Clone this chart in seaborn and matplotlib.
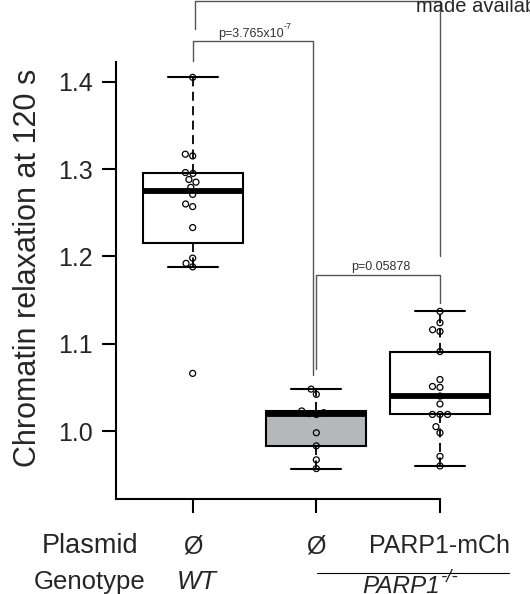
import numpy as np
import pandas as pd
import matplotlib
matplotlib.use("Agg")
import matplotlib.pyplot as plt
import matplotlib.transforms as mtransforms
import seaborn as sns

# === ДАННЫЕ ===
GROUPS = ["WT", "KO", "KO_PARP1"]
PLASMID_LABELS = ["Ø", "Ø", "PARP1-mCh"]
BOX_COLORS = ["white", "#b4b8b8", "white"]
Y_TICKS = [1.0, 1.1, 1.2, 1.3, 1.4]

wt_values = [1.405, 1.317, 1.315, 1.296, 1.295, 1.288, 1.285, 1.279,
             1.271, 1.260, 1.257, 1.233, 1.198, 1.192, 1.188, 1.066]
ko_values = [1.048, 1.042, 1.023, 1.021, 1.020, 1.019, 0.998, 0.983,
             0.967, 0.957]
ko_parp1_values = [1.137, 1.124, 1.116, 1.114, 1.091, 1.059, 1.051, 1.050,
                   1.040, 1.031, 1.019, 1.019, 1.019, 1.005, 0.998, 0.971,
                   0.960]

P_WT_KO = "p=3.765x10"
P_WT_KO_EXP = "-7"
P_KO_RESCUE = "p=0.05878"


def tukey_stats(vals):
    # как boxplot.stats в R: шарниры Тьюки + усы 1.5 IQR
    x = np.sort(np.asarray(vals))
    n = len(x)
    n4 = np.floor((n + 3) / 2) / 2
    d = np.array([1, n4, (n + 1) / 2, n + 1 - n4, n]) - 1
    five = 0.5 * (x[np.floor(d).astype(int)] + x[np.ceil(d).astype(int)])
    q1, med, q3 = five[1], five[2], five[3]
    iqr = q3 - q1
    return {
        "med": med, "q1": q1, "q3": q3,
        "whislo": x[x >= q1 - 1.5 * iqr].min(),
        "whishi": x[x <= q3 + 1.5 * iqr].max(),
        "fliers": [],
    }


def main():
    df = pd.DataFrame({
        "group": ["WT"] * len(wt_values) + ["KO"] * len(ko_values)
                 + ["KO_PARP1"] * len(ko_parp1_values),
        "value": wt_values + ko_values + ko_parp1_values,
    })

    sns.set_style("ticks")
    plt.rcParams["font.family"] = ["Liberation Sans", "DejaVu Sans"]

    fig = plt.figure(figsize=(5.3, 5.94), dpi=100)
    ax = fig.add_axes([0.2189, 0.1594, 0.7811, 0.7367])

    # === ТОЧКИ ===
    sns.swarmplot(data=df, x="group", y="value", order=GROUPS, size=4.3,
                  color="black", edgecolor="black", linewidth=0.9,
                  ax=ax, zorder=3)
    for coll in ax.collections:
        coll.set_facecolor("none")
        coll.set_edgecolor("black")

    # === БОКСЫ ===
    stats = [tukey_stats(v) for v in (wt_values, ko_values, ko_parp1_values)]
    bp = ax.bxp(stats, positions=range(len(GROUPS)), widths=0.81,
                patch_artist=True, showfliers=False, manage_ticks=False,
                boxprops=dict(linewidth=1.5, edgecolor="black"),
                whiskerprops=dict(linewidth=1.3, color="black",
                                  linestyle=(0, (5, 3))),
                capprops=dict(linewidth=1.5, color="black"),
                medianprops=dict(linewidth=4.2, color="black",
                                 solid_capstyle="butt"),
                zorder=2)
    for patch, c in zip(bp["boxes"], BOX_COLORS):
        patch.set_facecolor(c)

    # === ОСИ ===
    ax.set_xlim(-0.62, 2.728)
    ax.set_ylim(0.9218, 1.4229)
    ax.set_yticks(Y_TICKS)
    ax.set_yticklabels([f"{t:.1f}" for t in Y_TICKS])
    ax.set_xticks(range(len(GROUPS)))
    ax.set_xlabel("")
    ax.set_ylabel("")
    ax.tick_params(axis="both", length=9.8, width=1.5, color="black")
    ax.tick_params(axis="y", labelsize=18, pad=7)
    ax.tick_params(axis="x", labelbottom=False)
    for side in ("top", "right"):
        ax.spines[side].set_visible(False)
    for side in ("left", "bottom"):
        ax.spines[side].set_linewidth(1.5)
        ax.spines[side].set_color("black")
    ax.spines["bottom"].set_bounds(-0.62, 2)

    # === СКОБКИ С P-ЗНАЧЕНИЯМИ ===
    br = dict(color="#555555", lw=1.0, clip_on=False)
    ax.plot([0.02, 0.02, 2.0, 2.0], [1.460, 1.4926, 1.4926, 1.2004], **br)
    ax.plot([0.0, 0.0, 0.973, 0.973], [1.4237, 1.4466, 1.4466, 1.064], **br)
    ax.plot([1.0, 1.0, 2.0, 2.0], [1.071, 1.1786, 1.1786, 1.1466], **br)

    t1 = ax.text(0.205, 1.4512, P_WT_KO, fontsize=9, color="#333333",
                 ha="left", va="baseline")
    ax.annotate(P_WT_KO_EXP, xy=(1.0, 0.75), xycoords=t1, fontsize=6.5,
                color="#333333", ha="left", va="bottom")
    ax.text(1.523, 1.1845, P_KO_RESCUE, fontsize=9, color="#333333",
            ha="center", va="baseline")

    # === ПОДПИСИ ===
    def fy(px):
        return 1 - px / 594

    trans = mtransforms.blended_transform_factory(ax.transData, fig.transFigure)
    fig.text(28 / 530, fy(268), "Chromatin relaxation at 120 s", rotation=90,
             ha="center", va="center", fontsize=22)
    fig.text(90 / 530, fy(553), "Plasmid", ha="center", va="baseline",
             fontsize=19.5)
    for i, lab in enumerate(PLASMID_LABELS):
        ax.text(i, fy(553), lab, transform=trans, ha="center",
                va="baseline", fontsize=18)
    fig.text(90 / 530, fy(589), "Genotype", ha="center", va="baseline",
             fontsize=18.5)
    ax.text(0.03, fy(589), "WT", transform=trans, ha="center",
            va="baseline", fontsize=18.5, style="italic")
    ax.plot([1.005, 2.558], [fy(573), fy(573)], transform=trans,
            color="black", lw=0.8, clip_on=False)
    t2 = ax.text(1.375, fy(593), "PARP1", transform=trans, ha="left",
                 va="baseline", fontsize=17.5, style="italic")
    ax.annotate("-/-", xy=(1.0, 0.5), xycoords=t2, fontsize=13.5,
                style="italic", ha="left", va="bottom")

    fig.text(416 / 530, fy(12), "made available under", ha="left",
             va="baseline", fontsize=14.5)

    fig.savefig("out.png", dpi=100)


if __name__ == "__main__":
    main()
